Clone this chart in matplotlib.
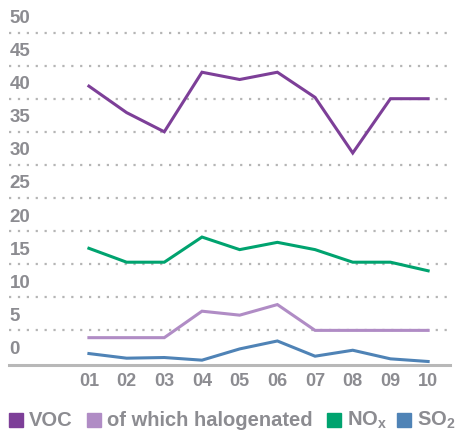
import matplotlib
matplotlib.use('Agg')
import matplotlib.pyplot as plt
from matplotlib.patches import Rectangle

plt.rcParams['font.family'] = ['Liberation Sans', 'DejaVu Sans']
plt.rcParams['font.weight'] = 'bold'
plt.rcParams['mathtext.fontset'] = 'custom'
plt.rcParams['mathtext.bf'] = 'Liberation Sans:bold'
plt.rcParams['mathtext.rm'] = 'Liberation Sans:bold'

years = ['01', '02', '03', '04', '05', '06', '07', '08', '09', '10']
voc = [41.9, 37.9, 35.0, 44.0, 42.9, 44.0, 40.2, 31.8, 40.0, 40.0]
halogenated = [3.9, 3.9, 3.9, 7.9, 7.3, 8.9, 5.0, 5.0, 5.0, 5.0]
nox = [17.4, 15.3, 15.3, 19.1, 17.2, 18.3, 17.2, 15.3, 15.3, 14.0]
so2 = [1.5, 0.8, 0.9, 0.5, 2.2, 3.4, 1.1, 2.0, 0.7, 0.3]
y_ticks = [0, 5, 10, 15, 20, 25, 30, 35, 40, 45, 50]
series_names = ['VOC', 'of which halogenated', r'NO$_\mathbf{x}$', r'SO$_\mathbf{2}$']

colors = ['#7d3f98', '#b08cc5', '#00a36f', '#4f83b6']
text_gray = '#8c8c91'

W, H = 455, 430
fig = plt.figure(figsize=(W / 100, H / 100), dpi=100)
ax = fig.add_axes([9 / W, 1 - 365 / H, (450 - 9) / W, (365 - 10) / H])

x = list(range(1, len(years) + 1))
for vals, c in zip([voc, halogenated, nox, so2], colors):
    ax.plot(x, vals, color=c, lw=2.2, solid_joinstyle='miter', zorder=3)

ax.set_xlim(-1.12, 10.58)
ax.set_ylim(-0.23, 53.4)

for v in y_ticks:
    if v > 0:
        ax.axhline(v, color='#b5b5b5', lw=1.6, linestyle=(0, (1, 3)), zorder=1)
    ax.annotate(str(v), xy=(0, v), xycoords=('axes fraction', 'data'),
                xytext=(0.5, 4), textcoords='offset points', ha='left', va='bottom',
                fontsize=13.5, color=text_gray, fontweight='bold')

for s in ['top', 'right', 'left']:
    ax.spines[s].set_visible(False)
ax.spines['bottom'].set_color('#b8b8b8')
ax.spines['bottom'].set_linewidth(2.2)
ax.set_yticks([])
ax.set_xticks(x)
ax.set_xticklabels(years)
ax.tick_params(axis='x', length=0, pad=6, labelsize=13, labelcolor=text_gray)

# legend along the bottom
legend_x = [9, 87, 327, 397]
for name, c, lx in zip(series_names, colors, legend_x):
    fig.patches.append(Rectangle((lx / W, 1 - 427 / H), 14 / W, 14 / H,
                                 transform=fig.transFigure, color=c))
    fig.text((lx + 20) / W, 1 - 426 / H, name, ha='left', va='baseline',
             fontsize=14.5, color=text_gray, fontweight='bold')

plt.savefig('out.png', dpi=100)
